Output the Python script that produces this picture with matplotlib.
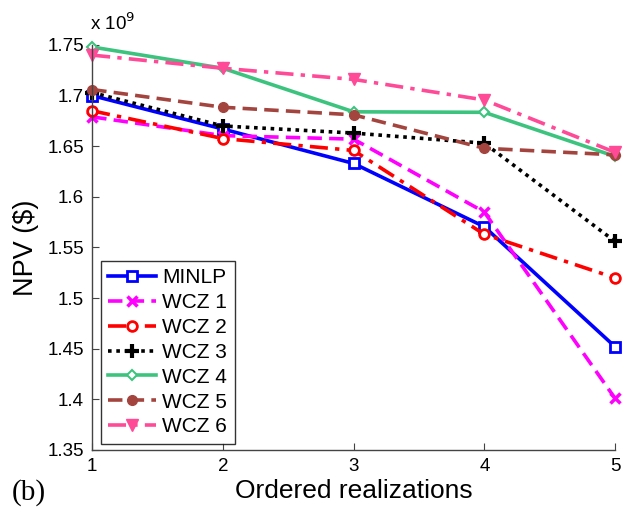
import matplotlib
matplotlib.use("Agg")
import matplotlib.pyplot as plt

x = [1, 2, 3, 4, 5]
minlp = [1.700, 1.667, 1.633, 1.5705, 1.452]
wcz1 = [1.679, 1.6605, 1.657, 1.585, 1.401]
wcz2 = [1.685, 1.6576, 1.6458, 1.563, 1.520]
wcz3 = [1.703, 1.670, 1.663, 1.653, 1.556]
wcz4 = [1.748, 1.727, 1.684, 1.6835, 1.640]
wcz5 = [1.706, 1.6885, 1.681, 1.648, 1.6415]
wcz6 = [1.740, 1.727, 1.716, 1.6957, 1.644]
labels = ["MINLP", "WCZ 1", "WCZ 2", "WCZ 3", "WCZ 4", "WCZ 5", "WCZ 6"]
yticks = [1.35, 1.4, 1.45, 1.5, 1.55, 1.6, 1.65, 1.7, 1.75]
yticklabels = ["1.35", "1.4", "1.45", "1.5", "1.55", "1.6", "1.65", "1.7", "1.75"]

plt.rcParams['font.family'] = ['Liberation Sans', 'DejaVu Sans']

fig = plt.figure(figsize=(6.4, 5.17), dpi=100)
ax = fig.add_axes([0.144, 0.1296, 0.817, 0.7834])

lw = 2.6
ax.plot(x, minlp, color='#0000ff', ls='-', lw=lw, marker='s', ms=7, mfc='white', mec='#0000ff', mew=2, label=labels[0])
ax.plot(x, wcz1, color='#ff00ff', ls=(0, (4, 2)), lw=lw, marker='x', ms=7, mew=2.5, label=labels[1])
ax.plot(x, wcz2, color='#ff0000', ls=(0, (5, 2, 1.2, 2)), lw=lw, marker='o', ms=7, mfc='white', mec='#ff0000', mew=2, label=labels[2])
ax.plot(x, wcz3, color='#000000', ls=(0, (1, 1.3)), lw=lw, marker='+', ms=10, mew=3, label=labels[3])
ax.plot(x, wcz4, color='#3cc47f', ls='-', lw=lw, marker='D', ms=5, mfc='white', mec='#3cc47f', mew=1.5, label=labels[4])
ax.plot(x, wcz5, color='#a4443f', ls=(0, (4, 2)), lw=lw, marker='o', ms=7, mfc='#a4443f', mec='#a4443f', label=labels[5])
ax.plot(x, wcz6, color='#ff4a98', ls=(0, (5, 2, 1.2, 2)), lw=lw, marker='v', ms=9, mfc='#ff4a98', mec='#ff4a98', label=labels[6])

ax.set_xlim(1, 5)
ax.set_ylim(1.35, 1.75)
ax.set_xticks(x)
ax.set_yticks(yticks)
ax.set_yticklabels(yticklabels)
ax.spines['top'].set_visible(False)
ax.spines['right'].set_visible(False)
for s in ['left', 'bottom']:
    ax.spines[s].set_color('#444444')
    ax.spines[s].set_linewidth(1.0)
ax.tick_params(direction='in', length=5, labelsize=13.5, colors='#444444', labelcolor='black', pad=6)
for m in ax.lines:
    m.set_clip_on(False)

ax.set_xlabel("Ordered realizations", fontsize=19, labelpad=3)
ax.set_ylabel("NPV ($)", fontsize=19.5, labelpad=6)
fig.text(0.141, 0.955, r"x 10$^{9}$", fontsize=13.5, ha='left', va='center')
fig.text(0.018, 0.047, "(b)", fontsize=21, family=['Liberation Serif'], ha='left', va='center')

leg = ax.legend(loc='lower left', bbox_to_anchor=(0.005, 0.0), fontsize=15, handlelength=2.3,
                frameon=True, fancybox=False, edgecolor='black', borderpad=0.35,
                labelspacing=0.28, handletextpad=0.3, borderaxespad=0.3)
leg.get_frame().set_linewidth(1.0)

fig.savefig("out.png", dpi=100)
